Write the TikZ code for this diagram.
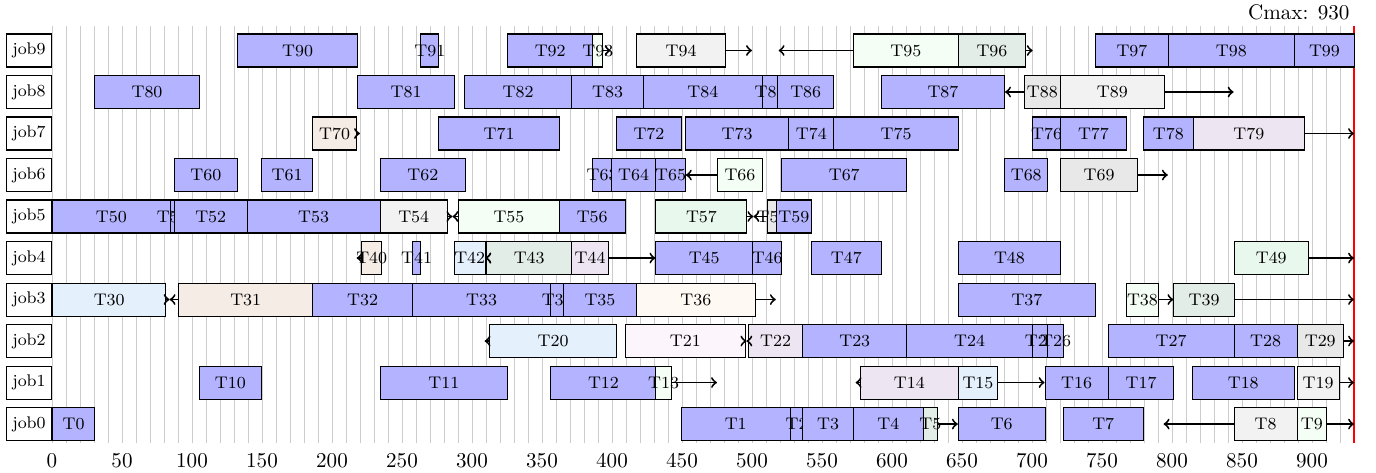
\documentclass[tikz,border=0pt]{standalone}
\definecolor{blu}{RGB}{179,179,255}
\definecolor{hon}{RGB}{244,254,244}
\definecolor{ggr}{RGB}{227,237,231}
\definecolor{lgr}{RGB}{242,242,242}
\definecolor{mgr}{RGB}{232,232,232}
\definecolor{lin}{RGB}{245,236,229}
\definecolor{lbl}{RGB}{228,240,252}
\definecolor{lav}{RGB}{237,230,242}
\definecolor{mnt}{RGB}{232,248,236}
\definecolor{sea}{RGB}{255,249,244}
\definecolor{bls}{RGB}{252,245,252}
\begin{document}
\begin{tikzpicture}[x=0.023333cm,y=0.69167cm]
\tikzstyle{every node}+=[inner sep=0pt]
\tikzstyle{task}=[draw=black,line width=0.5pt,minimum height=0.55cm,anchor=west]
\tikzstyle{job}=[draw=black,line width=0.5pt,minimum height=0.55cm,minimum width=0.75cm,anchor=east,font=\footnotesize]
\tikzstyle{arr}=[->,line width=0.9pt]
\useasboundingbox (-37.143,-1.1566) rectangle (945.714,10.2169);
% grid
\foreach \x in {0,10,...,930} \draw[black!20,line width=0.4pt] (\x,-0.46) -- (\x,9.59);
\foreach \x in {0,50,...,900} \node (tick\x) at (\x,-0.875) {\x};
\draw[red,line width=0.6pt] (930,-0.46) -- (930,9.59);
\node[anchor=east] (cmax) at (927,9.93) {Cmax: 930};
\foreach \j in {0,...,9} \node[job] (job\j) at (0,\j) {job\j};
% tasks: name/job/start/end/colour
\foreach \n/\r/\s/\e/\col in {
  0/0/0/30/blu, 1/0/449/527/blu, 2/0/527/536/blu, 3/0/536/572/blu, 4/0/572/622/blu,
  5/0/622/632/ggr, 6/0/647/709/blu, 7/0/722/779/blu, 8/0/844/889/lgr, 9/0/889/910/hon,
  10/1/105/149/blu, 11/1/234/325/blu, 12/1/356/431/blu, 13/1/431/442/hon, 14/1/577/647/lav,
  15/1/647/675/lbl, 16/1/709/754/blu, 17/1/754/801/blu, 18/1/814/887/blu, 19/1/889/919/lgr,
  20/2/312/403/lbl, 21/2/409/495/bls, 22/2/497/536/lav, 23/2/536/610/blu, 24/2/610/700/blu,
  25/2/700/711/blu, 26/2/711/722/blu, 27/2/754/844/blu, 28/2/844/889/blu, 29/2/889/922/mgr,
  30/3/0/81/lbl, 31/3/90/186/lin, 32/3/186/257/blu, 33/3/257/356/blu, 34/3/356/365/blu,
  35/3/365/417/blu, 36/3/417/502/sea, 37/3/647/745/blu, 38/3/767/790/hon, 39/3/801/844/ggr,
  40/4/221/235/lin, 41/4/257/263/blu, 42/4/287/309/lbl, 43/4/310/371/ggr, 44/4/371/397/lav,
  45/4/431/500/blu, 46/4/500/521/blu, 47/4/542/592/blu, 48/4/647/720/blu, 49/4/844/897/mnt,
  50/5/0/84/blu, 51/5/84/87/blu, 52/5/87/139/blu, 53/5/139/234/blu, 54/5/234/282/lgr,
  55/5/290/362/hon, 56/5/362/409/blu, 57/5/431/496/mnt, 58/5/511/517/mgr, 59/5/517/542/blu,
  60/6/87/132/blu, 61/6/149/186/blu, 62/6/234/295/blu, 63/6/386/399/blu, 64/6/399/431/blu,
  65/6/431/452/blu, 66/6/475/507/hon, 67/6/521/610/blu, 68/6/680/711/blu, 69/6/720/775/mgr,
  70/7/186/217/lin, 71/7/276/362/blu, 72/7/403/449/blu, 73/7/452/526/blu, 74/7/526/558/blu,
  75/7/558/647/blu, 76/7/700/720/blu, 77/7/720/767/blu, 78/7/779/815/blu, 79/7/815/894/lav,
  80/8/30/105/blu, 81/8/218/287/blu, 82/8/294/371/blu, 83/8/371/422/blu, 84/8/422/507/blu,
  85/8/507/518/blu, 86/8/518/558/blu, 87/8/592/680/blu, 88/8/694/720/mgr, 89/8/720/794/lgr,
  90/9/132/218/blu, 91/9/263/276/blu, 92/9/325/386/blu, 93/9/386/393/hon, 94/9/417/481/lgr,
  95/9/572/647/hon, 96/9/647/695/ggr, 97/9/745/797/blu, 98/9/797/887/blu, 99/9/887/930/blu}
{
  \node[task,fill=\col,minimum width={(\e-\s)*0.023333cm}] (T\n) at (\s,\r) {};
  \node[font=\footnotesize] (L\n) at (T\n) {T\n};
}
% slack arrows
\foreach \n/\r/\x in {93/9/399, 94/9/500, 95/9/519, 96/9/700.5, 89/8/844, 70/7/220, 79/7/930,
  69/6/797, 54/5/286, 55/5/286, 57/5/501, 58/5/501, 40/4/217.6, 42/4/309.5, 43/4/309.5,
  49/4/930, 30/3/84, 31/3/84, 36/3/517, 39/3/930, 20/2/309, 21/2/496, 22/2/496, 29/2/930,
  13/1/475, 14/1/574, 19/1/930, 8/0/794, 9/0/930}
{
  \coordinate (e\n) at (\x,\r);
  \draw[arr] (T\n) -- (e\n);
}
\draw[arr] (T88) -- (T87);
\draw[arr] (T66) -- (T65);
\draw[arr] (T44) -- (T45);
\draw[arr] (T38) -- (T39);
\draw[arr] (T15) -- (T16);
\draw[arr] (T5) -- (T6);
\end{tikzpicture}
\end{document}
